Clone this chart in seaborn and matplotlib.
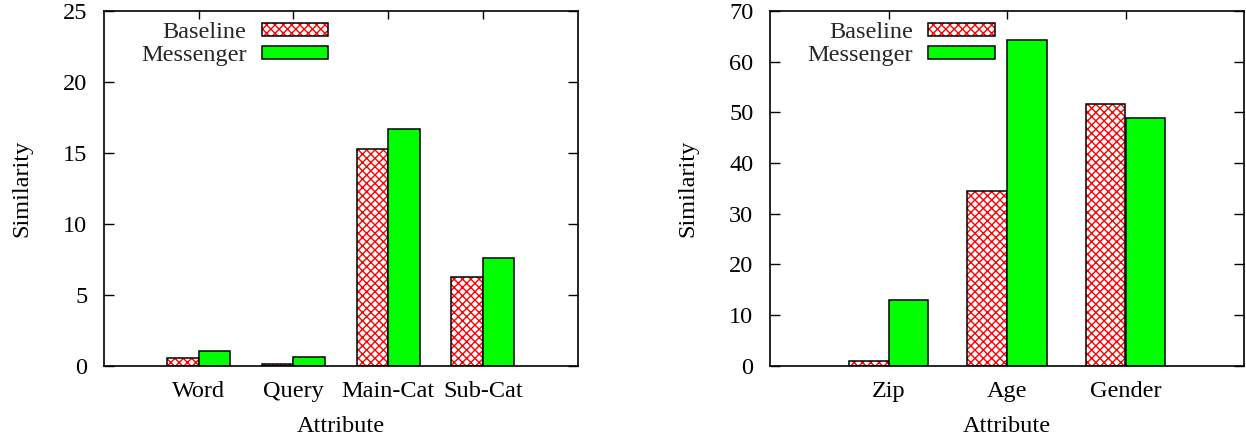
import matplotlib
matplotlib.use("Agg")
import matplotlib.pyplot as plt
import matplotlib.colors as mcolors
from matplotlib.patches import Patch
import seaborn as sns
import pandas as pd

# ---- data ----
left_categories = ["Word", "Query", "Main-Cat", "Sub-Cat"]
left_baseline = [0.52, 0.08, 15.25, 6.25]
left_messenger = [1.0, 0.62, 16.7, 7.6]

right_categories = ["Zip", "Age", "Gender"]
right_baseline = [0.85, 34.5, 51.7]
right_messenger = [13.0, 64.2, 48.8]

series_names = ["Baseline", "Messenger"]
left_yticks = [0, 5, 10, 15, 20, 25]
right_yticks = [0, 10, 20, 30, 40, 50, 60, 70]

sns.set_theme(style="white")
plt.rcParams["font.family"] = ["Liberation Serif", "DejaVu Serif"]
plt.rcParams["hatch.linewidth"] = 1.0

FS = 17.5
GREEN = "#00ff00"
RED = mcolors.to_rgba("red")
HATCH = "xxxx"


def set_hatch_red(p):
    if hasattr(p, "set_hatchcolor"):
        p.set_hatchcolor("red")
    else:
        p._hatch_color = RED


def make_df(cats, base, mess):
    rows = []
    for c, b, m in zip(cats, base, mess):
        rows.append({"Attribute": c, "Series": series_names[0], "Similarity": b})
        rows.append({"Attribute": c, "Series": series_names[1], "Similarity": m})
    return pd.DataFrame(rows)


fig = plt.figure(figsize=(12.46, 4.40), dpi=100)
axL = fig.add_axes([104 / 1246, 1 - 365.5 / 440, (577.5 - 104) / 1246, (365.5 - 11) / 440])
axR = fig.add_axes([770 / 1246, 1 - 365.5 / 440, (1244 - 770) / 1246, (365.5 - 11) / 440])


def draw(ax, cats, base, mess, yticks, ylim):
    df = make_df(cats, base, mess)
    sns.barplot(data=df, x="Attribute", y="Similarity", hue="Series",
                hue_order=series_names, order=cats,
                palette={"Baseline": "white", "Messenger": GREEN},
                width=0.667, gap=0, dodge=True, legend=False,
                edgecolor="black", linewidth=1.1, ax=ax, errorbar=None,
                saturation=1)
    for p in list(ax.patches):
        fc = p.get_facecolor()
        if fc[0] > 0.9 and fc[1] > 0.9 and fc[2] > 0.9:
            p.set_hatch(HATCH)
            set_hatch_red(p)
    ax.set_xlim(-1, len(cats))
    ax.set_ylim(*ylim)
    ax.set_yticks(yticks)
    ax.set_yticklabels([str(t) for t in yticks])
    for s in ax.spines.values():
        s.set_visible(True)
        s.set_color("black")
        s.set_linewidth(1.2)
    ax.tick_params(axis="y", direction="in", length=7, width=1.0, right=True,
                   left=True, labelsize=FS, pad=12, colors="black")
    ax.tick_params(axis="x", direction="in", length=6, width=1.0, top=True,
                   bottom=True, labelsize=FS, pad=11, colors="black")
    ax.set_xlabel("Attribute", fontsize=FS, color="black")
    ax.set_ylabel("Similarity", fontsize=FS, color="black")
    ax.xaxis.set_label_coords(0.5, -0.143)
    ax.yaxis.set_label_coords(-0.152, 0.5)

    handles = [Patch(facecolor="white", edgecolor="black", hatch=HATCH, linewidth=1.1),
               Patch(facecolor=GREEN, edgecolor="black", linewidth=1.1)]
    leg = ax.legend(handles, series_names, loc="upper right",
                    bbox_to_anchor=(0.474, 0.968), frameon=False,
                    markerfirst=False, fontsize=FS, handlelength=2.75,
                    handleheight=0.48, handletextpad=0.62, labelspacing=0.08,
                    borderpad=0, borderaxespad=0)
    for p in leg.get_patches():
        if p.get_hatch():
            set_hatch_red(p)


draw(axL, left_categories, left_baseline, left_messenger, left_yticks, (0, 25))
draw(axR, right_categories, right_baseline, right_messenger, right_yticks, (0, 70))

fig.savefig("out.png", dpi=100)
